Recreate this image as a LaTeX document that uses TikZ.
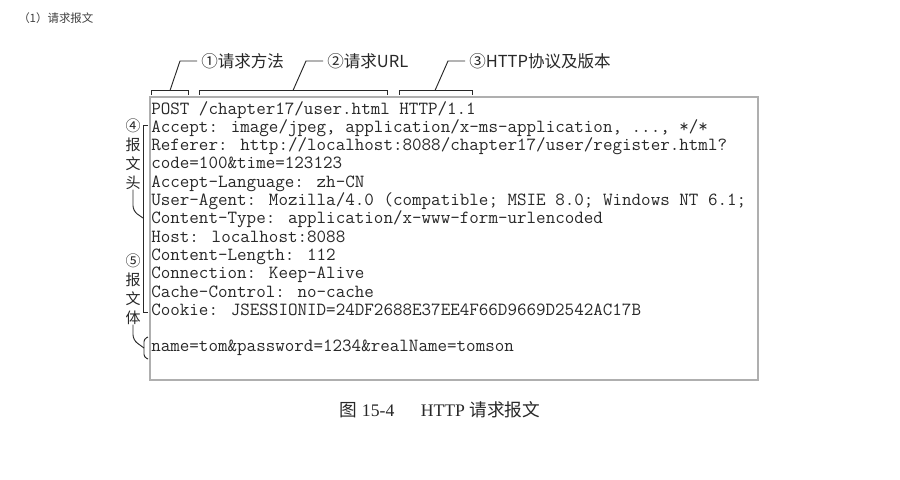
\documentclass[tikz,border=0pt]{standalone}
\usepackage{fontspec}
\setmainfont{Liberation Serif}
\newfontfamily\cjk{Noto Sans CJK SC}
\usetikzlibrary{positioning}
\definecolor{inkgray}{RGB}{40,40,40}
\definecolor{framegray}{RGB}{175,175,175}
\tikzset{
  codeline/.style={anchor=base west, inner sep=0pt, text=inkgray,
                   font=\fontsize{13.9}{16}\selectfont\ttfamily},
  callout/.style={anchor=west, inner sep=3pt, text=inkgray,
                  font=\cjk\fontsize{12.4}{15}\selectfont},
  sidelabel/.style={align=center, inner sep=0pt, text=inkgray,
                    font=\cjk\fontsize{11.25}{14.25}\selectfont},
  leader/.style={draw=inkgray, line width=0.7pt},
}

\begin{document}
\begin{tikzpicture}[x=0.75pt, y=-0.75pt]
\useasboundingbox (0,0) rectangle (900,479);
\fill[white] (0,0) rectangle (900,479);

\node[anchor=west, inner sep=0pt, text=black!75, font=\cjk\fontsize{8.6}{10}\selectfont] (title) at (18,18) {（1）请求报文};

% message box and its lines
\draw[framegray, line width=0.8pt] (150,97) rectangle (758,380);
\foreach \y/\txt [count=\i] in {
  114/{POST /chapter17/user.html HTTP/1.1},
  132.3/{Accept: image/jpeg, application/x-ms-application, ..., */*},
  150.6/{Referer: http://localhost:8088/chapter17/user/register.html?},
  168.9/{code=100\&time=123123},
  187.2/{Accept-Language: zh-CN},
  205.5/{User-Agent: Mozilla/4.0 (compatible; MSIE 8.0; Windows NT 6.1;},
  223.8/{Content-Type: application/x-www-form-urlencoded},
  242.1/{Host: localhost:8088},
  260.4/{Content-Length: 112},
  278.7/{Connection: Keep-Alive},
  297/{Cache-Control: no-cache},
  315.3/{Cookie: JSESSIONID=24DF2688E37EE4F66D9669D2542AC17B},
  351/{name=tom\&password=1234\&realName=tomson}}
  \node[codeline] (line\i) at (151,\y) {\txt};

% request line callouts
\node[callout] (m1) at (197,61) {①请求方法};
\node[callout] (m2) at (323,61) {②请求URL};
\node[callout] (m3) at (465,61) {③HTTP协议及版本};
\foreach \l/\r/\m/\n in {151/188/170/m1, 199/387/293/m2, 399/472/435/m3} {
  \draw[leader] (\l,94.5) |- (\r,90.5) -- (\r,94.5);
  \draw[leader] (\m,90.5) -- ([shift={(-17,0)}]\n.west) -- (\n.west);
}

% header and body labels
\node[sidelabel] (hdlab) at (133,154) {④\\报\\文\\头};
\node[sidelabel] (bdlab) at (133,289) {⑤\\报\\文\\体};
\coordinate (hdtip) at (143,218);
\coordinate (bdtip) at (144,348);
\draw[leader] (148,125) -- (143,125) -- (143,312) -- (148,312);
\draw[leader, rounded corners=4pt] (hdlab.south) -- (133,211) -- (hdtip);
\draw[leader, rounded corners=2pt] (148,337) -- (144,339) -- (144,357) -- (148,359);
\draw[leader, rounded corners=4pt] (bdlab.south) -- (133,340) -- (bdtip);

\node[text=inkgray, font=\fontsize{13.25}{15}\selectfont] (caption) at (440,410)
  {{\cjk 图} 15-4\hspace{1.5em}HTTP {\cjk 请求报文}};
\end{tikzpicture}
\end{document}
